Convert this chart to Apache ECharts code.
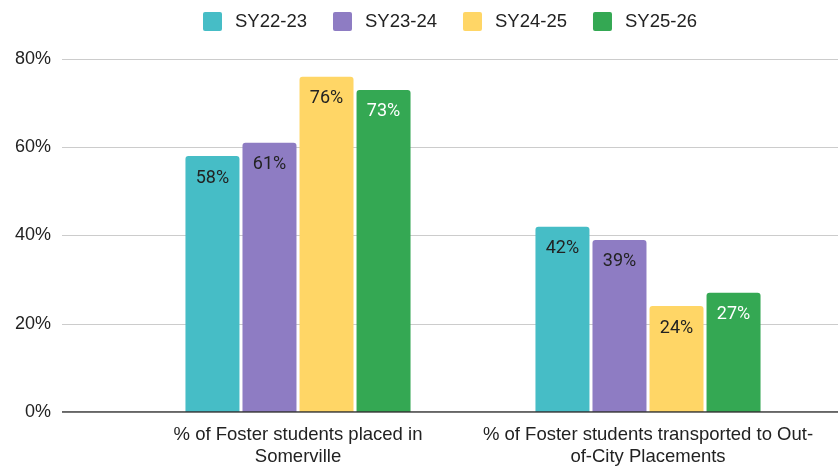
<!DOCTYPE html>
<html><head><meta charset="utf-8">
<script src="https://cdn.jsdelivr.net/npm/echarts@6/dist/echarts.min.js"></script>
<style>html,body{margin:0;padding:0;background:#fff}#c{width:838px;height:466px}</style>
</head><body><div id="c"></div>
<script>
const categories = ["% of Foster students placed in\nSomerville", "% of Foster students transported to Out-\nof-City Placements"];
const seriesNames = ["SY22-23", "SY23-24", "SY24-25", "SY25-26"];
const sy2223 = [58, 42];
const sy2324 = [61, 39];
const sy2425 = [76, 24];
const sy2526 = [73, 27];
const yTicks = [0, 20, 40, 60, 80];

const colors = ["#46BDC6", "#8E7CC3", "#FFD666", "#34A853"];
const labelColors = ["#222222", "#222222", "#222222", "#ffffff"];
const values = [sy2223, sy2324, sy2425, sy2526];

const chart = echarts.init(document.getElementById('c'));
const gridTop = 59, gridBottom = 54;
const squareIcon = 'path://M2,0 H17 A2,2 0 0 1 19,2 V17 A2,2 0 0 1 17,19 H2 A2,2 0 0 1 0,17 V2 A2,2 0 0 1 2,0 Z';
chart.setOption({
  animation: false,
  color: colors,
  legend: {
    top: 7, left: 198,
    itemWidth: 19, itemHeight: 19, itemGap: 26,
    icon: squareIcon,
    textStyle: {fontFamily: 'Liberation Sans, Arial, sans-serif', fontSize: 18.5, color: '#222', padding: [0,0,0,8]},
    data: seriesNames
  },
  grid: [
    {left: 62, right: 0, top: gridTop, bottom: gridBottom, outerBoundsMode: 'none', containLabel: false},
    {left: 123, right: 15, top: gridTop, bottom: gridBottom, outerBoundsMode: 'none', containLabel: false}
  ],
  xAxis: [
    {type: 'value', gridIndex: 0, show: false, min: 0, max: 1},
    {type: 'category', gridIndex: 1, data: categories,
     axisLine: {show: false}, axisTick: {show: false},
     axisLabel: {interval: 0, fontFamily: 'Liberation Sans, Arial, sans-serif', fontSize: 18.5, color: '#222', margin: 12, lineHeight: 22}}
  ],
  yAxis: [
    {type: 'value', gridIndex: 0, min: 0, max: 80, interval: 20,
     axisLabel: {formatter: v => yTicks.includes(v) ? v + '%' : '', fontFamily: 'Liberation Sans, Arial, sans-serif', fontSize: 18, color: '#222', margin: 11},
     axisLine: {show: false}, axisTick: {show: false},
     splitLine: {lineStyle: {color: '#cccccc', width: 1}}},
    {type: 'value', gridIndex: 1, min: 0, max: 80, interval: 20, show: false, splitLine: {show: false}}
  ],
  series: seriesNames.map((n, i) => ({
    name: n, type: 'bar', xAxisIndex: 1, yAxisIndex: 1,
    data: values[i], barWidth: 54, barGap: '5.6%',
    itemStyle: {color: colors[i], borderRadius: [3, 3, 0, 0]},
    label: {show: true, position: 'insideTop', distance: 13, formatter: '{c}%',
      fontFamily: 'Roboto, sans-serif', fontSize: 18, color: labelColors[i]},
    z: 3
  })).concat([{
    type: 'line', xAxisIndex: 0, yAxisIndex: 0, data: [[0, 0], [1, 0]],
    symbol: 'none', lineStyle: {color: '#333', width: 1.5}, silent: true, z: 4,
    legendHoverLink: false
  }])
});
</script></body></html>
